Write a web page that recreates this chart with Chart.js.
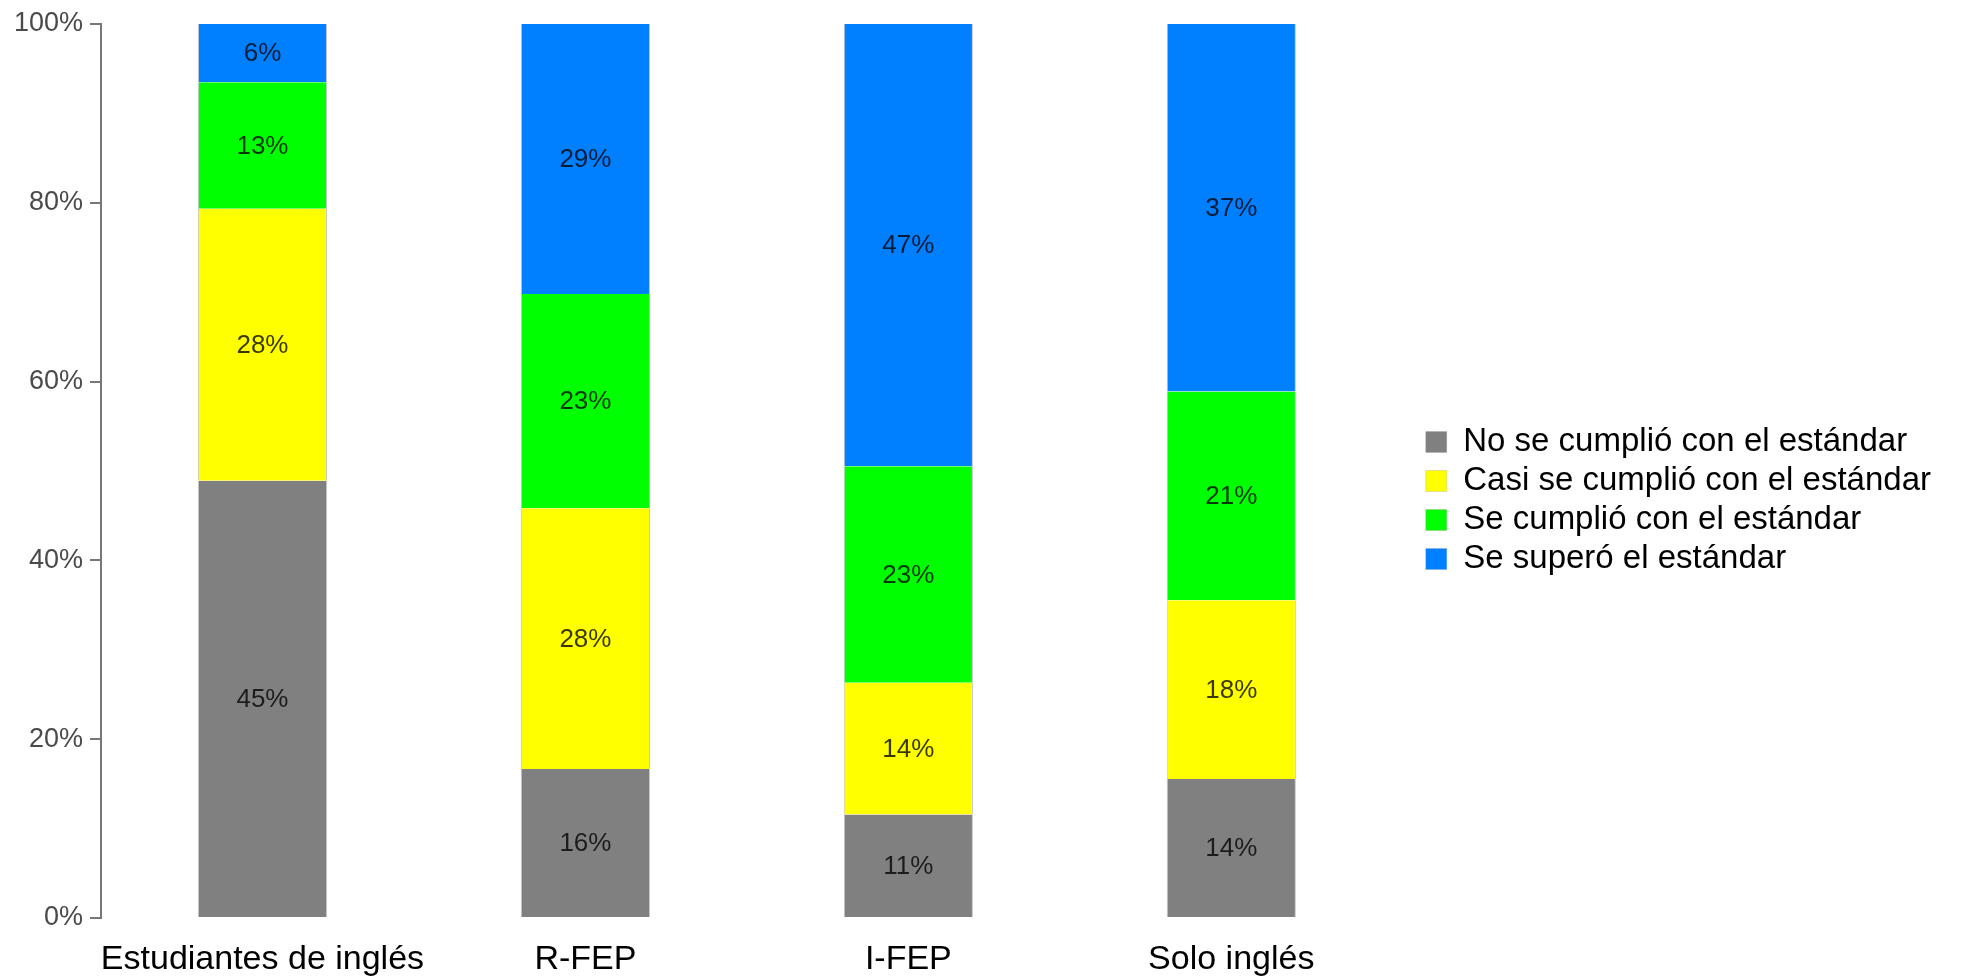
<!DOCTYPE html>
<html lang="es">
<head>
<meta charset="UTF-8">
<title>Resultados por grupo</title>
<style>
    html, body { margin: 0; padding: 0; background: #fff; }
    #wrap { width: 1961px; height: 977px; }
</style>
</head>
<body>
<div id="wrap"><canvas id="chart"></canvas></div>
<script src="https://cdn.jsdelivr.net/npm/chart.js"></script>
<script>
const grupos = ['Estudiantes de inglés', 'R-FEP', 'I-FEP', 'Solo inglés'];
const niveles = ['No se cumplió con el estándar', 'Casi se cumplió con el estándar', 'Se cumplió con el estándar', 'Se superó el estándar'];
// porcentajes tal como aparecen en las etiquetas
const noCumplio   = [45, 16, 11, 14];
const casiCumplio = [28, 28, 14, 18];
const cumplio     = [13, 23, 23, 21];
const supero      = [ 6, 29, 47, 37];
const colores = ['#808080', '#ffff00', '#00ff00', '#0080ff'];
const yTicks = [0, 20, 40, 60, 80, 100];

const fuente = '"Liberation Sans", Arial, sans-serif';
const series = [noCumplio, casiCumplio, cumplio, supero];
// las barras se apilan al 100% (las etiquetas no siempre suman 100)
const totales = grupos.map((g, j) => series.reduce((s, arr) => s + arr[j], 0));

const datasets = series.map((valores, i) => ({
    label: niveles[i],
    valores: valores,
    data: valores.map((v, j) => v / totales[j] * 100),
    backgroundColor: colores[i],
    borderColor: 'rgba(150,150,150,0.55)',
    borderWidth: {left: 1, right: 1, top: 0, bottom: 0},
    borderSkipped: false,
    barPercentage: 0.4,
    categoryPercentage: 1.0
}));

// texto de porcentaje centrado en cada segmento
const etiquetas = {
    id: 'etiquetas',
    afterDatasetsDraw(chart) {
        const ctx = chart.ctx;
        ctx.save();
        ctx.font = '26px ' + fuente;
        ctx.fillStyle = 'rgba(0,0,0,0.78)';
        ctx.textAlign = 'center';
        ctx.textBaseline = 'middle';
        chart.data.datasets.forEach((ds, i) => {
            chart.getDatasetMeta(i).data.forEach((bar, j) => {
                const p = bar.getProps(['x', 'y', 'base'], true);
                ctx.fillText(ds.valores[j] + '%', p.x, (p.y + p.base) / 2 + 1);
            });
        });
        ctx.restore();
    }
};

// la leyenda queda algo separada de las barras y sin recortar
const moverLeyenda = {
    id: 'moverLeyenda',
    afterLayout(chart) {
        const lg = chart.legend;
        lg.left = chart.chartArea.right + 27;
        lg.right = chart.width;
        lg.width = lg.right - lg.left;
    }
};

new Chart(document.getElementById('chart'), {
    type: 'bar',
    data: { labels: grupos, datasets: datasets },
    plugins: [etiquetas, moverLeyenda],
    options: {
        responsive: true,
        maintainAspectRatio: false,
        animation: false,
        layout: { padding: { left: 0, top: 24, right: 104, bottom: 0 } },
        plugins: {
            tooltip: { enabled: false },
            legend: {
                position: 'right',
                align: 'center',
                labels: {
                    color: '#000',
                    font: { size: 33, family: fuente },
                    boxWidth: 21,
                    boxHeight: 21,
                    padding: 6
                }
            }
        },
        scales: {
            x: {
                stacked: true,
                afterFit: s => { s.height = 59; },
                grid: { display: false, drawTicks: false },
                border: { display: false },
                ticks: {
                    color: '#000',
                    font: { size: 34, family: fuente },
                    padding: 21,
                    maxRotation: 0,
                    autoSkip: false
                }
            },
            y: {
                stacked: true,
                min: 0,
                max: 100,
                afterFit: s => { s.width = 101; },
                afterBuildTicks: axis => { axis.ticks = yTicks.map(v => ({ value: v })); },
                ticks: {
                    color: '#4a4a4a',
                    font: { size: 27, family: fuente },
                    padding: 7,
                    callback: v => v + '%'
                },
                grid: { drawOnChartArea: false, tickLength: 11, color: '#777', lineWidth: 2 },
                border: { display: true, color: '#777', width: 2 }
            }
        }
    }
});
</script>
</body>
</html>
